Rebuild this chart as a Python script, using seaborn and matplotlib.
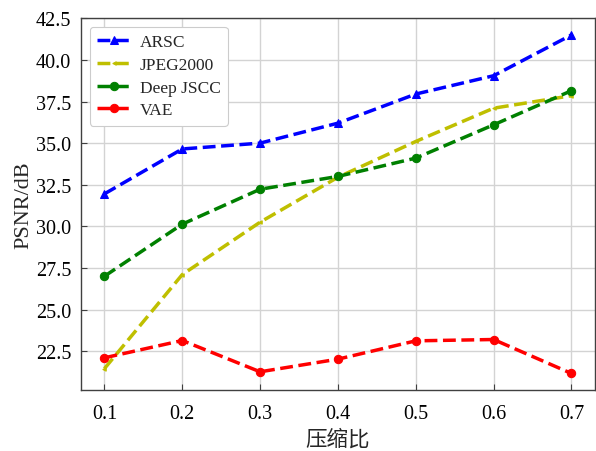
import matplotlib
matplotlib.use("Agg")
import matplotlib.pyplot as plt
import seaborn as sns
import pandas as pd

ratios = [0.1, 0.2, 0.3, 0.4, 0.5, 0.6, 0.7]
arsc = [31.95, 34.65, 35.0, 36.2, 37.95, 39.05, 41.5]
jpeg2000 = [21.45, 27.1, 30.25, 32.95, 35.1, 37.1, 37.85]
deep_jscc = [27.0, 30.13, 32.23, 33.0, 34.1, 36.1, 38.15]
vae = [22.1, 23.14, 21.26, 22.02, 23.12, 23.2, 21.16]

series_names = ["ARSC", "JPEG2000", "Deep JSCC", "VAE"]
series_vals = [arsc, jpeg2000, deep_jscc, vae]
colors = ["#0000ff", "#bfbf00", "#008000", "#ff0000"]
markers = ["^", "<", "o", "o"]
msizes = [6, 2.5, 6, 6]

sns.set_theme(style="whitegrid")
plt.rcParams["font.family"] = ["Liberation Serif", "Noto Sans CJK SC", "DejaVu Sans"]

fig = plt.figure(figsize=(5.96, 4.52), dpi=100)
ax = fig.add_axes([0.136, 0.134, 0.862, 0.824])

for name, vals, c, m, ms in zip(series_names, series_vals, colors, markers, msizes):
    df = pd.DataFrame({"x": ratios, "y": vals})
    sns.lineplot(data=df, x="x", y="y", ax=ax, color=c, marker=m, markersize=ms,
                 markeredgecolor=c, linestyle="--", linewidth=2.5, label=name)

ax.set_xticks(ratios)
ax.set_xticklabels([f"{r:.1f}" for r in ratios])
ax.set_xlim(0.07, 0.73)
ax.set_ylim(20.14, 42.52)
yt = [22.5, 25.0, 27.5, 30.0, 32.5, 35.0, 37.5, 40.0, 42.5]
ax.set_yticks(yt)
ax.set_yticklabels([f"{v:.1f}" for v in yt])

ax.grid(True, color="#d3d3d3", linewidth=1.0)
for s in ax.spines.values():
    s.set_visible(True)
    s.set_color("#404040")
    s.set_linewidth(1.0)
ax.tick_params(axis="both", direction="in", length=4, width=0.8, colors="#404040",
               labelsize=14.5, labelcolor="black", left=True, bottom=True)
ax.tick_params(axis="x", pad=10)
ax.tick_params(axis="y", pad=7)

ax.set_xlabel("压缩比", fontsize=15.5, family=["Noto Sans CJK SC", "DejaVu Sans"], labelpad=3)
ax.set_ylabel("PSNR/dB", fontsize=16, labelpad=2)

leg = ax.legend(loc="upper left", fontsize=12.5, frameon=True, framealpha=1.0,
                edgecolor="#cccccc", fancybox=True, borderpad=0.42, labelspacing=0.38,
                handlelength=2.0, handletextpad=0.45)
leg.get_frame().set_linewidth(0.8)

fig.savefig("out.png", dpi=100)
